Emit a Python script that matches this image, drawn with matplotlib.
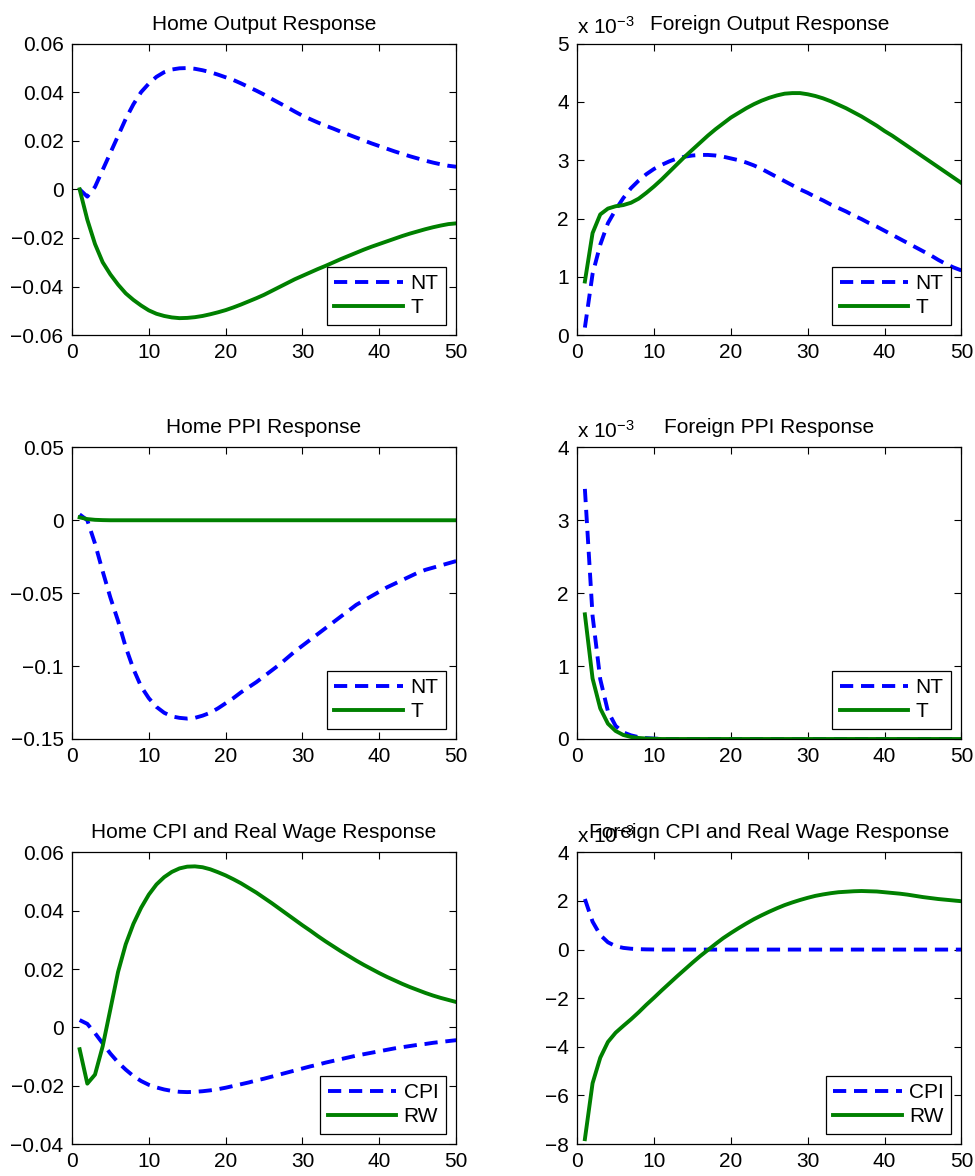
import numpy as np
import matplotlib
matplotlib.use("Agg")
from matplotlib import pyplot as plt

plt.rcParams['font.family'] = ['Liberation Sans', 'DejaVu Sans']
plt.rcParams['mathtext.fontset'] = 'custom'
plt.rcParams['mathtext.rm'] = 'Liberation Sans'
plt.rcParams['mathtext.it'] = 'Liberation Sans:italic'
plt.rcParams['mathtext.bf'] = 'Liberation Sans:bold'

periods = np.arange(1, 51)

# home output
home_out_nt = [0.000, -0.003, 0.001, 0.008, 0.015, 0.022, 0.029, 0.035, 0.040, 0.0435,
               0.0463, 0.0482, 0.0493, 0.0498, 0.0499, 0.0496, 0.0490, 0.0482, 0.0472, 0.0461,
               0.0450, 0.0436, 0.0421, 0.0406, 0.0390, 0.0372, 0.0355, 0.0338, 0.0320, 0.0303,
               0.0289, 0.0275, 0.0262, 0.0250, 0.0237, 0.0225, 0.0213, 0.0201, 0.0189, 0.0178,
               0.0167, 0.0156, 0.0146, 0.0136, 0.0127, 0.0118, 0.0110, 0.0103, 0.0097, 0.0093]
home_out_t = [0.000, -0.0125, -0.0225, -0.030, -0.035, -0.0392, -0.0428, -0.0455, -0.0478, -0.0498,
              -0.0512, -0.0521, -0.0527, -0.0530, -0.0529, -0.0526, -0.0521, -0.0514, -0.0506, -0.0497,
              -0.0486, -0.0474, -0.0461, -0.0448, -0.0434, -0.0418, -0.0402, -0.0386, -0.0370, -0.0356,
              -0.0342, -0.0328, -0.0315, -0.0301, -0.0287, -0.0274, -0.0261, -0.0248, -0.0236, -0.0225,
              -0.0214, -0.0203, -0.0192, -0.0182, -0.0173, -0.0164, -0.0156, -0.0149, -0.0143, -0.0140]

# foreign output (x 1e-3)
for_out_nt = [0.13, 1.05, 1.55, 1.92, 2.15, 2.35, 2.52, 2.65, 2.76, 2.85,
              2.92, 2.98, 3.03, 3.06, 3.08, 3.09, 3.09, 3.08, 3.06, 3.03,
              3.00, 2.96, 2.91, 2.85, 2.78, 2.71, 2.64, 2.57, 2.50, 2.44,
              2.37, 2.31, 2.24, 2.18, 2.12, 2.05, 1.99, 1.92, 1.86, 1.79,
              1.72, 1.65, 1.58, 1.51, 1.44, 1.37, 1.29, 1.22, 1.16, 1.11]
for_out_t = [0.92, 1.75, 2.07, 2.17, 2.21, 2.23, 2.27, 2.34, 2.44, 2.55,
             2.67, 2.80, 2.93, 3.06, 3.18, 3.30, 3.42, 3.53, 3.63, 3.73,
             3.81, 3.89, 3.96, 4.02, 4.07, 4.11, 4.14, 4.15, 4.15, 4.13,
             4.10, 4.06, 4.01, 3.95, 3.89, 3.82, 3.75, 3.67, 3.59, 3.50,
             3.42, 3.33, 3.24, 3.15, 3.06, 2.97, 2.88, 2.79, 2.70, 2.61]

# home PPI
home_ppi_nt = [0.004, 0.000, -0.016, -0.035, -0.053, -0.069, -0.087, -0.102, -0.114, -0.122,
               -0.128, -0.132, -0.1345, -0.1355, -0.136, -0.1355, -0.134, -0.132, -0.129, -0.1255,
               -0.122, -0.118, -0.1145, -0.111, -0.107, -0.103, -0.099, -0.0945, -0.090, -0.086,
               -0.082, -0.078, -0.074, -0.070, -0.066, -0.062, -0.058, -0.055, -0.052, -0.049,
               -0.046, -0.0435, -0.041, -0.0385, -0.036, -0.034, -0.0325, -0.031, -0.0295, -0.028]
home_ppi_t = [0.002, 0.0008, 0.0003, 0.0001] + [0.0] * 46

# foreign PPI (x 1e-3)
for_ppi_nt = [3.43, 1.69, 0.82, 0.38, 0.18, 0.09, 0.05, 0.025, 0.012, 0.006] + [0.0] * 40
for_ppi_t = [1.71, 0.83, 0.42, 0.21, 0.11, 0.055, 0.028, 0.014, 0.007, 0.003] + [0.0] * 40

# home CPI and real wage
home_cpi = [0.0025, 0.0012, -0.002, -0.0055, -0.009, -0.012, -0.0145, -0.0167, -0.0184, -0.0197,
            -0.0206, -0.0213, -0.0218, -0.0221, -0.0222, -0.0221, -0.0219, -0.0216, -0.0212, -0.0207,
            -0.0201, -0.0195, -0.0189, -0.0182, -0.0176, -0.0169, -0.0162, -0.0155, -0.0148, -0.0141,
            -0.0134, -0.0128, -0.0121, -0.0115, -0.0109, -0.0103, -0.0097, -0.0092, -0.0087, -0.0082,
            -0.0077, -0.0072, -0.0068, -0.0064, -0.0060, -0.0057, -0.0053, -0.0050, -0.0047, -0.0044]
home_rw = [-0.0075, -0.0193, -0.0162, -0.0065, 0.0062, 0.0190, 0.0285, 0.0355, 0.0410, 0.0455,
           0.0490, 0.0515, 0.0533, 0.0545, 0.0551, 0.0552, 0.0549, 0.0542, 0.0532, 0.0521,
           0.0508, 0.0494, 0.0478, 0.0462, 0.0444, 0.0426, 0.0407, 0.0388, 0.0369, 0.0350,
           0.0332, 0.0313, 0.0295, 0.0278, 0.0261, 0.0245, 0.0229, 0.0214, 0.0200, 0.0186,
           0.0173, 0.0161, 0.0149, 0.0138, 0.0128, 0.0118, 0.0109, 0.0101, 0.0094, 0.0087]

# foreign CPI and real wage (x 1e-3)
for_cpi = [2.08, 1.15, 0.60, 0.30, 0.14, 0.07, 0.035, 0.017, 0.008, 0.004] + [0.0] * 40
for_rw = [-7.8, -5.5, -4.45, -3.80, -3.42, -3.14, -2.87, -2.58, -2.27, -1.98,
          -1.68, -1.39, -1.10, -0.82, -0.54, -0.27, -0.02, 0.23, 0.47, 0.68,
          0.88, 1.07, 1.25, 1.41, 1.56, 1.70, 1.83, 1.94, 2.04, 2.13,
          2.21, 2.27, 2.32, 2.36, 2.38, 2.40, 2.41, 2.40, 2.39, 2.36,
          2.33, 2.30, 2.26, 2.21, 2.16, 2.12, 2.08, 2.05, 2.02, 1.99]

x_ticks = [0, 10, 20, 30, 40, 50]
yt_home_out = [-0.06, -0.04, -0.02, 0, 0.02, 0.04, 0.06]
yl_home_out = ['\u22120.06', '\u22120.04', '\u22120.02', '0', '0.02', '0.04', '0.06']
yt_for_out = [0, 1, 2, 3, 4, 5]
yt_home_ppi = [-0.15, -0.1, -0.05, 0, 0.05]
yl_home_ppi = ['\u22120.15', '\u22120.1', '\u22120.05', '0', '0.05']
yt_for_ppi = [0, 1, 2, 3, 4]
yt_home_cpi = [-0.04, -0.02, 0, 0.02, 0.04, 0.06]
yl_home_cpi = ['\u22120.04', '\u22120.02', '0', '0.02', '0.04', '0.06']
yt_for_cpi = [-8, -6, -4, -2, 0, 2, 4]

BLUE = (0, 0, 1)
GREEN = (0, 0.5, 0)
FS = 15

fig = plt.figure(figsize=(9.75, 11.76), dpi=100)
lefts = [0.0738, 0.592]
bottoms = [0.715, 0.3716, 0.0272]
w, h = 0.394, 0.248


def panel(ax, a, b, labels, title, yticks, ylabels, ylim, exp=False):
    ax.plot(periods, a, color=BLUE, lw=2.8, dashes=(3.4, 2.0), label=labels[0])
    ax.plot(periods, b, color=GREEN, lw=2.8, label=labels[1])
    ax.set_xlim(0, 50)
    ax.set_ylim(*ylim)
    ax.set_xticks(x_ticks)
    ax.set_yticks(yticks)
    if ylabels is None:
        ylabels = [('\u2212' + str(-t)) if t < 0 else str(t) for t in yticks]
    ax.set_yticklabels(ylabels)
    ax.tick_params(direction='in', length=5, width=0.8, top=True, right=True,
                   labelsize=FS, pad=6)
    for s in ax.spines.values():
        s.set_linewidth(0.9)
    ax.set_title(title, fontsize=FS, pad=10)
    leg = ax.legend(loc='lower right', fontsize=FS, handlelength=3.3, handletextpad=0.35,
                    labelspacing=0.25, borderpad=0.35, borderaxespad=0.5,
                    fancybox=False, framealpha=1)
    leg.get_frame().set_edgecolor('black')
    leg.get_frame().set_linewidth(0.9)
    if exp:
        ax.text(0, 1.034, r'x 10$^{\mathrm{-3}}$', transform=ax.transAxes,
                ha='left', va='baseline', fontsize=FS)


ax = fig.add_axes([lefts[0], bottoms[0], w, h])
panel(ax, home_out_nt, home_out_t, ['NT', 'T'], 'Home Output Response',
      yt_home_out, yl_home_out, (-0.06, 0.06))
ax = fig.add_axes([lefts[1], bottoms[0], w, h])
panel(ax, for_out_nt, for_out_t, ['NT', 'T'], 'Foreign Output Response',
      yt_for_out, None, (0, 5), exp=True)
ax = fig.add_axes([lefts[0], bottoms[1], w, h])
panel(ax, home_ppi_nt, home_ppi_t, ['NT', 'T'], 'Home PPI Response',
      yt_home_ppi, yl_home_ppi, (-0.15, 0.05))
ax = fig.add_axes([lefts[1], bottoms[1], w, h])
panel(ax, for_ppi_nt, for_ppi_t, ['NT', 'T'], 'Foreign PPI Response',
      yt_for_ppi, None, (0, 4), exp=True)
ax = fig.add_axes([lefts[0], bottoms[2], w, h])
panel(ax, home_cpi, home_rw, ['CPI', 'RW'], 'Home CPI and Real Wage Response',
      yt_home_cpi, yl_home_cpi, (-0.04, 0.06))
ax = fig.add_axes([lefts[1], bottoms[2], w, h])
panel(ax, for_cpi, for_rw, ['CPI', 'RW'], 'Foreign CPI and Real Wage Response',
      yt_for_cpi, None, (-8, 4), exp=True)

fig.savefig('out.png', dpi=100)
